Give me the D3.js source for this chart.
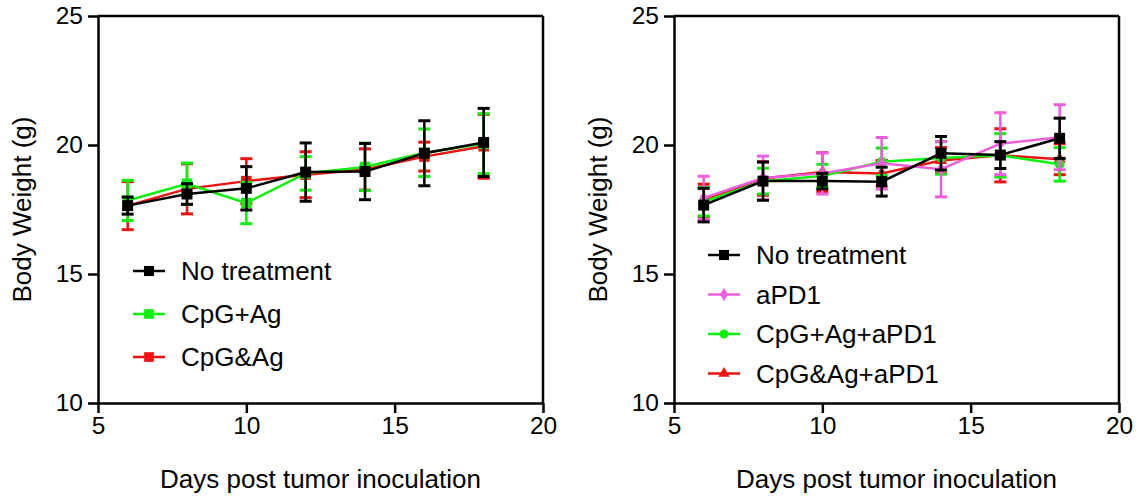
<!DOCTYPE html>
<html>
<head>
<meta charset="utf-8">
<script src="https://cdn.jsdelivr.net/npm/d3@7"></script>
<style>
  body { margin: 0; background: #fff; }
  svg { display: block; font-family: "Liberation Sans", Arial, sans-serif; }
</style>
</head>
<body>
<svg></svg>
<script>
const days = [6, 8, 10, 12, 14, 16, 18];
const xTicks = [5, 10, 15, 20];
const yTicks = [10, 15, 20, 25];

// left panel
const noTreatL = [17.65, 18.1, 18.32, 18.95, 18.97, 19.68, 20.1];
const noTreatLErr = [0.33, 0.4, 0.84, 1.13, 1.09, 1.26, 1.32];
const cpgPlusAg = [17.85, 18.5, 17.75, 18.9, 19.15, 19.7, 20.05];
const cpgPlusAgErr = [0.78, 0.8, 0.8, 0.65, 0.92, 0.92, 1.16];
const cpgAndAg = [17.65, 18.3, 18.6, 18.85, 19.05, 19.55, 19.95];
const cpgAndAgErr = [0.93, 0.97, 0.87, 0.89, 0.8, 0.56, 1.24];

// right panel
const noTreatR = [17.67, 18.6, 18.6, 18.58, 19.68, 19.61, 20.26];
const noTreatRErr = [0.65, 0.74, 0.3, 0.56, 0.65, 0.52, 0.78];
const aPD1 = [17.95, 18.72, 18.9, 19.29, 19.06, 20.05, 20.3];
const aPD1Err = [0.84, 0.85, 0.8, 1.0, 1.07, 1.2, 1.26];
const cpgPlusAgPD1 = [17.8, 18.6, 18.8, 19.35, 19.5, 19.6, 19.25];
const cpgPlusAgPD1Err = [0.55, 0.5, 0.45, 0.53, 0.63, 0.84, 0.65];
const cpgAndAgPD1 = [17.85, 18.7, 18.95, 18.9, 19.4, 19.6, 19.45];
const cpgAndAgPD1Err = [0.63, 0.65, 0.75, 0.5, 0.5, 1.03, 0.6];

const width = 1139, height = 501;

const svg = d3.select("svg")
    .attr("width", width)
    .attr("height", height)
    .attr("viewBox", [0, 0, width, height]);

// series listed in legend order; drawn in reverse so first sits on top
const leftSeries = [
  { name: "No treatment", mean: noTreatL, err: noTreatLErr, color: "#000000", shape: d3.symbolSquare, size: 120 },
  { name: "CpG+Ag", mean: cpgPlusAg, err: cpgPlusAgErr, color: "#0cf00c", shape: d3.symbolSquare, size: 110 },
  { name: "CpG&Ag", mean: cpgAndAg, err: cpgAndAgErr, color: "#f01010", shape: d3.symbolSquare, size: 110 }
];
const rightSeries = [
  { name: "No treatment", mean: noTreatR, err: noTreatRErr, color: "#000000", shape: d3.symbolSquare, size: 120 },
  { name: "aPD1", mean: aPD1, err: aPD1Err, color: "#ee5ddc", shape: d3.symbolDiamond, size: 60 },
  { name: "CpG+Ag+aPD1", mean: cpgPlusAgPD1, err: cpgPlusAgPD1Err, color: "#0cf00c", shape: d3.symbolCircle, size: 75 },
  { name: "CpG&Ag+aPD1", mean: cpgAndAgPD1, err: cpgAndAgPD1Err, color: "#f01010", shape: d3.symbolTriangle, size: 65 }
];

function drawPanel(left, series, legend) {
  const right = left + 445, top = 16, bottom = 403;

  const x = d3.scaleLinear().domain([5, 20]).range([left, right]);
  const y = d3.scaleLinear().domain([10, 25]).range([bottom, top]);

  const g = svg.append("g");

  const xAxis = g.append("g")
      .attr("transform", `translate(0,${bottom})`)
      .call(d3.axisBottom(x).tickValues(xTicks).tickSize(10).tickSizeOuter(0).tickPadding(4));
  const yAxis = g.append("g")
      .attr("transform", `translate(${left},0)`)
      .call(d3.axisLeft(y).tickValues(yTicks).tickSize(10).tickSizeOuter(0).tickPadding(5));

  [xAxis, yAxis].forEach(a => {
    a.selectAll("path, line").attr("stroke", "#000").attr("stroke-width", 2.5);
    a.selectAll("text").attr("font-size", 24.5).attr("fill", "#000")
      .attr("font-family", "Liberation Sans, Arial, sans-serif");
  });

  // box frame
  g.append("line").attr("x1", x(5)).attr("x2", x(20)).attr("y1", y(25)).attr("y2", y(25))
      .attr("stroke", "#000").attr("stroke-width", 2.5);
  g.append("line").attr("x1", x(20)).attr("x2", x(20)).attr("y1", y(25)).attr("y2", y(10))
      .attr("stroke", "#000").attr("stroke-width", 2.5);

  g.append("text")
      .attr("transform", `translate(${left - 67},${(top + bottom) / 2}) rotate(-90)`)
      .attr("text-anchor", "middle")
      .attr("font-size", 26)
      .attr("fill", "#000")
      .text("Body Weight (g)");

  g.append("text")
      .attr("x", (left + right) / 2)
      .attr("y", 488)
      .attr("text-anchor", "middle")
      .attr("font-size", 26)
      .attr("fill", "#000")
      .text("Days post tumor inoculation");

  const line = d3.line()
      .x((d, i) => x(days[i]))
      .y(d => y(d));

  const capW = 6;
  series.slice().reverse().forEach(s => {
    const sg = g.append("g");
    const pts = days.map((d, i) => ({ day: d, m: s.mean[i], e: s.err[i] }));

    const eb = sg.selectAll(".eb").data(pts).join("g");
    eb.append("line")
        .attr("x1", d => x(d.day)).attr("x2", d => x(d.day))
        .attr("y1", d => y(d.m + d.e)).attr("y2", d => y(d.m - d.e))
        .attr("stroke", s.color).attr("stroke-width", 2.5);
    eb.append("line")
        .attr("x1", d => x(d.day) - capW).attr("x2", d => x(d.day) + capW)
        .attr("y1", d => y(d.m + d.e)).attr("y2", d => y(d.m + d.e))
        .attr("stroke", s.color).attr("stroke-width", 3);
    eb.append("line")
        .attr("x1", d => x(d.day) - capW).attr("x2", d => x(d.day) + capW)
        .attr("y1", d => y(d.m - d.e)).attr("y2", d => y(d.m - d.e))
        .attr("stroke", s.color).attr("stroke-width", 3);

    sg.append("path")
        .attr("fill", "none")
        .attr("stroke", s.color)
        .attr("stroke-width", 2.5)
        .attr("d", line(s.mean));

    sg.selectAll(".pt").data(pts).join("path")
        .attr("transform", d => `translate(${x(d.day)},${y(d.m)})`)
        .attr("d", d3.symbol().type(s.shape).size(s.size))
        .attr("fill", s.color);
  });

  // legend
  const lg = g.append("g");
  series.forEach((s, i) => {
    const ly = legend.y0 + i * legend.dy;
    lg.append("line")
        .attr("x1", legend.x).attr("x2", legend.x + 32)
        .attr("y1", ly).attr("y2", ly)
        .attr("stroke", s.color).attr("stroke-width", 2.5);
    lg.append("path")
        .attr("transform", `translate(${legend.x + 16},${ly})`)
        .attr("d", d3.symbol().type(s.shape).size(s.size * 0.85))
        .attr("fill", s.color);
    lg.append("text")
        .attr("x", legend.x + 48)
        .attr("y", ly)
        .attr("dy", "0.35em")
        .attr("font-size", 26)
        .attr("fill", "#000")
        .text(s.name);
  });
}

drawPanel(98, leftSeries, { x: 133, y0: 271, dy: 43 });
drawPanel(674, rightSeries, { x: 708, y0: 255, dy: 39.5 });
</script>
</body>
</html>
